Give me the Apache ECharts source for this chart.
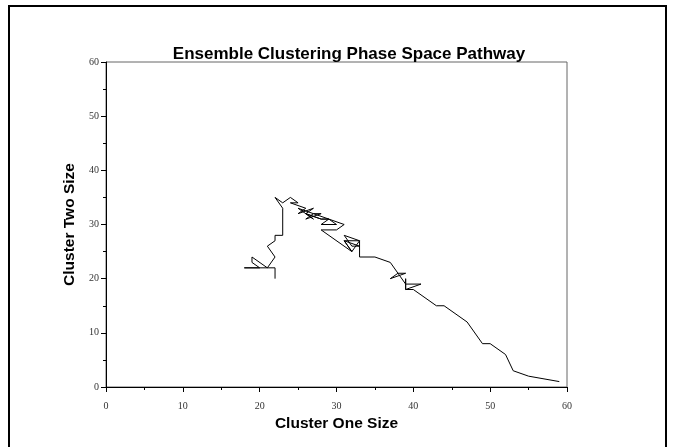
<!DOCTYPE html>
<html><head><meta charset="utf-8">
<script src="https://cdn.jsdelivr.net/npm/echarts@6/dist/echarts.min.js"></script>
<style>html,body{margin:0;padding:0;background:#fff}#c{width:675px;height:447px}</style>
</head><body><div id="c"></div>
<script>
var clusterOne = [22,22,21,19,19,20,18,20,21,22,21,22,22,23,23,22,23,24,25,24,26,25,27,26,28,26,27,25,27,26,28,27,29,28,29,28,30,29,31,30,28,32,31,33,31,32,33,31,32,33,33,35,37,38,37,39,38,39,41,39,39,39,40,41,43,44,47,49,50,52,53,55,59];
var clusterTwo = [20,22,22,24,23,22,22,22,22,24,26,27,28,28,33,35,34,35,34,34,33,32,33,32,31,32,31,33,32,31,32,32,31,31,31,30,30,31,30,29,29,25,27,27,28,26,26,27,25,27,24,24,23,21,20,21,21,19,19,18,20,18,18,17,15,15,12,8,8,6,3,2,1];
var xTicks = [0,10,20,30,40,50,60];
var yTicks = [0,10,20,30,40,50,60];
var titleText = 'Ensemble Clustering Phase Space Pathway';
var xName = 'Cluster One Size';
var yName = 'Cluster Two Size';

var pts = clusterOne.map(function(x,i){return [x, clusterTwo[i]];});
var chart = echarts.init(document.getElementById('c'), null, {renderer:'canvas'});
var labelStyle = {color:'#333', fontFamily:'Liberation Serif', fontSize:10};
chart.setOption({
  animation:false,
  title:{text:titleText, left:344, top:41, textAlign:'center',
    textStyle:{fontFamily:'Liberation Sans', fontWeight:'bold', fontSize:17, color:'#000'}},
  grid:{left:106, right:108, top:62, bottom:60, show:true, borderColor:'#666', borderWidth:1},
  xAxis:{type:'value', min:xTicks[0], max:xTicks[xTicks.length-1], interval:10,
    axisLine:{show:true, lineStyle:{color:'#000', width:1}},
    axisTick:{show:true, length:5, lineStyle:{color:'#000'}},
    minorTick:{show:true, splitNumber:2, length:3, lineStyle:{color:'#000'}},
    splitLine:{show:false},
    axisLabel:Object.assign({margin:14}, labelStyle),
    name:xName, nameLocation:'middle', nameGap:27,
    nameTextStyle:{fontFamily:'Liberation Sans', fontWeight:'bold', fontSize:15.5, color:'#000'}},
  yAxis:{type:'value', min:yTicks[0], max:yTicks[yTicks.length-1], interval:10,
    axisLine:{show:true, lineStyle:{color:'#000', width:1}},
    axisTick:{show:true, length:5, lineStyle:{color:'#000'}},
    minorTick:{show:true, splitNumber:2, length:3, lineStyle:{color:'#000'}},
    splitLine:{show:false},
    axisLabel:Object.assign({margin:7}, labelStyle),
    name:yName, nameLocation:'middle', nameGap:26, nameRotate:90,
    nameTextStyle:{fontFamily:'Liberation Sans', fontWeight:'bold', fontSize:15.5, color:'#000'}},
  series:[{type:'line', data:pts, showSymbol:false, symbol:'none',
    lineStyle:{color:'#000', width:1}, clip:true}],
  graphic:[{type:'polyline', shape:{points:[[9,447],[9,6],[666,6],[666,447]]},
    style:{stroke:'#000', lineWidth:2, fill:null}}]
});
</script></body></html>
